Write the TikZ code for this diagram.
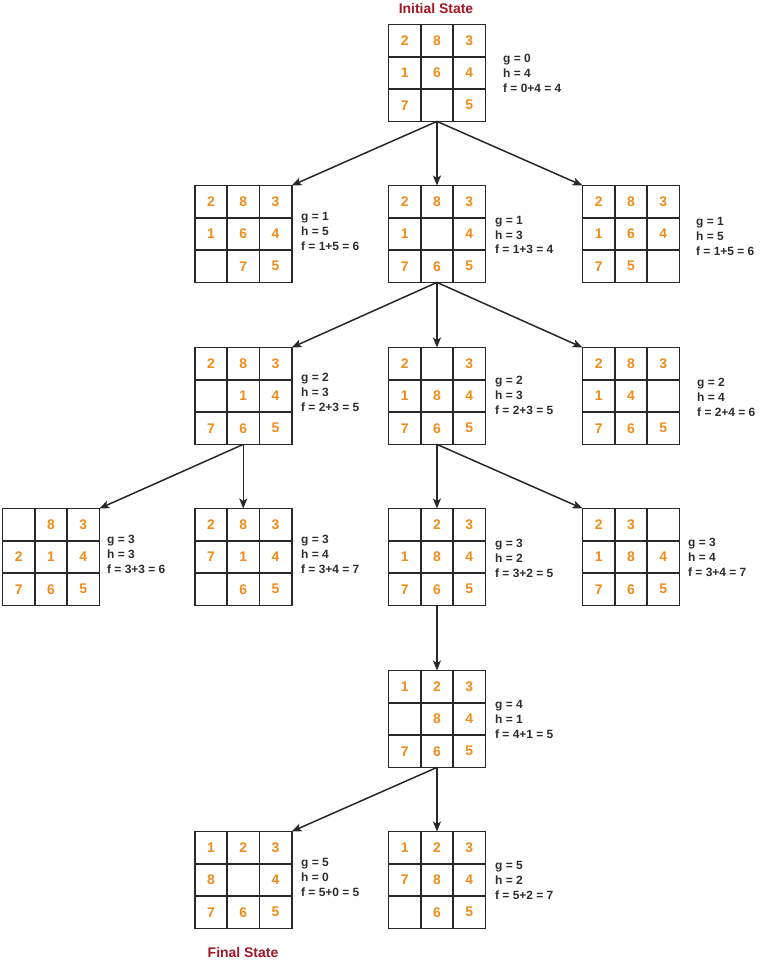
\documentclass[tikz,border=0pt]{standalone}
\usepackage{fontspec}
\setmainfont{Liberation Sans}
\usetikzlibrary{arrows.meta}
\definecolor{gridc}{RGB}{40,40,40}
\definecolor{numc}{RGB}{240,140,25}
\definecolor{txtc}{RGB}{45,45,45}
\definecolor{ttlc}{RGB}{162,22,38}
\tikzset{
  frame/.style={draw=gridc, line width=1.6bp, minimum size=96.9bp, inner sep=0pt, outer sep=0pt, anchor=north west},
  cell/.style={draw=gridc, line width=1.6bp, minimum size=32.3bp, inner sep=0pt, outer sep=0pt,
    font=\bfseries\fontsize{14}{14}\selectfont, text=numc, anchor=center},
  info/.style={anchor=west, align=left, inner sep=0pt, text=txtc,
    font=\bfseries\fontsize{12}{15}\selectfont},
  ttl/.style={text=ttlc, inner sep=0pt, font=\bfseries\fontsize{14}{14}\selectfont},
  arr/.style={draw=gridc, line width=1.5bp, -{Stealth[length=10bp,width=8bp,inset=2.5bp]}},
}
\newcommand{\puzz}[4]{%
  \node[frame] (#1) at (#2,#3) {};
  \foreach \v [count=\i from 0] in {#4} {
    \pgfmathtruncatemacro\rr{int(\i/3)}
    \pgfmathtruncatemacro\cc{mod(\i,3)}
    \node[cell] (#1-\i) at ({#2+(\cc+0.5)*32.3},{#3+(\rr+0.5)*32.3}) {\v};
  }%
}
\begin{document}
\begin{tikzpicture}[x=1bp,y=-1bp]
\useasboundingbox[fill=white] (0,0) rectangle (768,961);

\node[ttl] (title0) at (436,9) {Initial State};
\node[ttl] (title5) at (243,953) {Final State};

% level 0
\puzz{m0}{388.5}{24.5}{2,8,3,1,6,4,7,{},5}
\node[info] (t0) at (503,73) {g = 0\\h = 4\\f = 0+4 = 4};

% level 1
\puzz{m1a}{194.8}{185.5}{2,8,3,1,6,4,{},7,5}
\puzz{m1b}{388.5}{185.5}{2,8,3,1,{},4,7,6,5}
\puzz{m1c}{582.5}{185.5}{2,8,3,1,6,4,7,5,{}}
\node[info] (t1a) at (301,231) {g = 1\\h = 5\\f = 1+5 = 6};
\node[info] (t1b) at (495,235) {g = 1\\h = 3\\f = 1+3 = 4};
\node[info] (t1c) at (696,236) {g = 1\\h = 5\\f = 1+5 = 6};

% level 2
\puzz{m2a}{194.8}{347.5}{2,8,3,{},1,4,7,6,5}
\puzz{m2b}{388.5}{347.5}{2,{},3,1,8,4,7,6,5}
\puzz{m2c}{582.5}{347.5}{2,8,3,1,4,{},7,6,5}
\node[info] (t2a) at (301,392) {g = 2\\h = 3\\f = 2+3 = 5};
\node[info] (t2b) at (495,395) {g = 2\\h = 3\\f = 2+3 = 5};
\node[info] (t2c) at (697,397) {g = 2\\h = 4\\f = 2+4 = 6};

% level 3
\puzz{m3a}{2.5}{508.5}{{},8,3,2,1,4,7,6,5}
\puzz{m3b}{194.8}{508.5}{2,8,3,7,1,4,{},6,5}
\puzz{m3c}{388.5}{508.5}{{},2,3,1,8,4,7,6,5}
\puzz{m3d}{582.5}{508.5}{2,3,{},1,8,4,7,6,5}
\node[info] (t3a) at (107,554) {g = 3\\h = 3\\f = 3+3 = 6};
\node[info] (t3b) at (301,554) {g = 3\\h = 4\\f = 3+4 = 7};
\node[info] (t3c) at (495,558) {g = 3\\h = 2\\f = 3+2 = 5};
\node[info] (t3d) at (688,557) {g = 3\\h = 4\\f = 3+4 = 7};

% level 4
\puzz{m4}{388.5}{670.5}{1,2,3,{},8,4,7,6,5}
\node[info] (t4) at (495,719) {g = 4\\h = 1\\f = 4+1 = 5};

% level 5
\puzz{m5a}{194.8}{831.5}{1,2,3,8,{},4,7,6,5}
\puzz{m5b}{388.5}{831.5}{1,2,3,7,8,4,{},6,5}
\node[info] (t5a) at (301,877) {g = 5\\h = 0\\f = 5+0 = 5};
\node[info] (t5b) at (495,880) {g = 5\\h = 2\\f = 5+2 = 7};

% connectors
\draw[arr] (m0.south) -- (m1a.north east);
\draw[arr] (m0.south) -- (m1b.north);
\draw[arr] (m0.south) -- (m1c.north west);

\draw[arr] (m1b.south) -- (m2a.north east);
\draw[arr] (m1b.south) -- (m2b.north);
\draw[arr] (m1b.south) -- (m2c.north west);

\draw[arr] (m2a.south) -- (m3a.north east);
\draw[arr] (m2a.south) -- (m3b.north);
\draw[arr] (m2b.south) -- (m3c.north);
\draw[arr] (m2b.south) -- (m3d.north west);

\draw[arr] (m3c.south) -- (m4.north);

\draw[arr] (m4.south) -- (m5a.north east);
\draw[arr] (m4.south) -- (m5b.north);
\end{tikzpicture}
\end{document}
